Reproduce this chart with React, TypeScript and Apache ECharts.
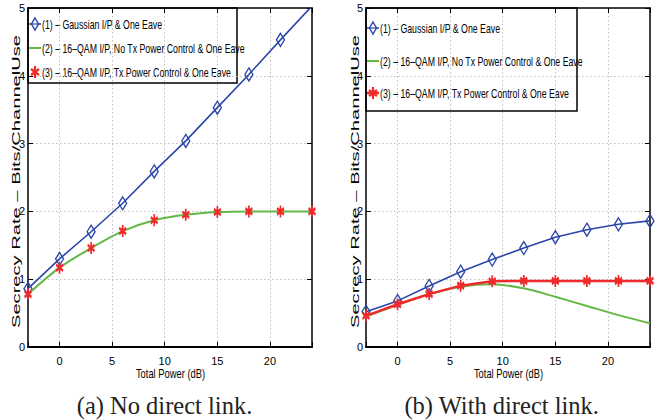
import React, { useEffect, useRef } from "react";
import * as echarts from "echarts";

const xs = [-3, 0, 3, 6, 9, 12, 15, 18, 21, 24];

// (a) No direct link
const aGaussian = [0.86, 1.3, 1.7, 2.12, 2.59, 3.04, 3.53, 4.02, 4.53, 5.03];
const aQamNoPc = [0.78, 1.17, 1.46, 1.71, 1.87, 1.95, 1.99, 2.0, 2.0, 2.0];
const aQamPc = [0.78, 1.17, 1.46, 1.71, 1.87, 1.95, 1.99, 2.0, 2.0, 2.0];

// (b) With direct link
const bGaussian = [0.52, 0.68, 0.9, 1.11, 1.29, 1.46, 1.62, 1.73, 1.81, 1.86];
const bQamNoPc = [0.45, 0.62, 0.78, 0.89, 0.925, 0.865, 0.74, 0.605, 0.47, 0.35];
const bQamPc = [0.46, 0.63, 0.78, 0.905, 0.97, 0.975, 0.975, 0.975, 0.975, 0.975];

const legendLabels = [
  "(1) – Gaussian I/P & One Eave",
  "(2) – 16–QAM I/P, No Tx Power Control & One Eave",
  "(3) – 16–QAM I/P, Tx Power Control & One Eave",
];
const xTicks = [0, 5, 10, 15, 20];
const yLabel = "Secrecy Rate – Bits/ChannelUse";
const xLabel = "Total Power (dB)";
const captions = ["(a) No direct link.", "(b) With direct link."];

const BLUE = "#2a46a8";
const GREEN = "#63b846";
const RED = "#f02a2a";
const SANS = "'Liberation Sans', Arial, Helvetica, sans-serif";
const STAR = "path://M5,0L5,12M0.6,3L9.4,9M0.6,9L9.4,3";
const GRIDLINE = { color: "#bdbdbd", type: [1.5, 2.5], width: 1 };

const pts = (vals: number[]) => xs.map((x, i) => [x, vals[i]]);

function xAxes(grid: number) {
  const common = {
    type: "value" as const,
    gridIndex: grid,
    min: -3,
    max: 24,
    axisTick: { show: true, inside: true, length: 5, lineStyle: { color: "#000", width: 1 } },
  };
  return [
    {
      ...common,
      position: "bottom" as const,
      axisLine: { show: true, onZero: false, lineStyle: { color: "#000", width: 2 } },
      axisLabel: {
        show: true,
        margin: 8,
        fontFamily: SANS,
        fontSize: 11,
        color: "#000",
        formatter: (v: number) => (xTicks.indexOf(v) >= 0 ? String(v) : ""),
      },
      splitLine: { show: true, showMinLine: false, showMaxLine: false, lineStyle: GRIDLINE },
    },
    {
      ...common,
      position: "top" as const,
      axisLine: { show: true, onZero: false, lineStyle: { color: "#000", width: 1.5 } },
      axisLabel: { show: false },
      splitLine: { show: false },
    },
  ];
}

function yAxes(grid: number) {
  const common = {
    type: "value" as const,
    gridIndex: grid,
    min: 0,
    max: 5,
    interval: 1,
    axisLine: { show: true, onZero: false, lineStyle: { color: "#000", width: 1.5 } },
    axisTick: { show: true, inside: true, length: 5, lineStyle: { color: "#000", width: 1 } },
  };
  return [
    {
      ...common,
      position: "left" as const,
      axisLabel: { show: true, margin: 3, fontFamily: SANS, fontSize: 11, color: "#000" },
      splitLine: { show: true, showMinLine: false, showMaxLine: false, lineStyle: GRIDLINE },
    },
    {
      ...common,
      position: "right" as const,
      axisLabel: { show: false },
      splitLine: { show: false },
    },
  ];
}

function plotSeries(axisIdx: number, g: number[], q: number[], p: number[], redLine: boolean) {
  return [
    {
      name: legendLabels[0],
      type: "line",
      xAxisIndex: axisIdx,
      yAxisIndex: axisIdx,
      data: pts(g),
      symbol: "diamond",
      symbolSize: [8, 13],
      itemStyle: { color: "rgba(255,255,255,0)", borderColor: BLUE, borderWidth: 1.4 },
      lineStyle: { color: BLUE, width: 1.6 },
      z: 3,
    },
    {
      name: legendLabels[1],
      type: "line",
      xAxisIndex: axisIdx,
      yAxisIndex: axisIdx,
      data: pts(q),
      symbol: "none",
      smooth: 0.3,
      itemStyle: { color: GREEN },
      lineStyle: { color: GREEN, width: 2 },
      z: 4,
    },
    {
      name: legendLabels[2],
      type: "line",
      xAxisIndex: axisIdx,
      yAxisIndex: axisIdx,
      data: pts(p),
      symbol: STAR,
      symbolSize: [7, 12],
      itemStyle: { color: "rgba(255,255,255,0)", borderColor: RED, borderWidth: 2.2 },
      lineStyle: redLine ? { color: RED, width: 2.5 } : { color: RED, width: 2, opacity: 0 },
      z: 5,
    },
  ];
}

function legendGraphic(
  bx: number,
  by: number,
  bw: number,
  bh: number,
  rows: number[],
  iconX: number,
  textX: number,
  redLine: boolean
) {
  const children: any[] = [
    {
      type: "rect",
      shape: { x: bx, y: by, width: bw, height: bh },
      style: { fill: "#fff", stroke: "#000", lineWidth: 1.5 },
    },
  ];
  const cx = iconX + 6;
  // (1) blue line + diamond
  let y = rows[0];
  children.push({
    type: "line",
    shape: { x1: iconX, y1: y, x2: iconX + 12, y2: y },
    style: { stroke: BLUE, lineWidth: 1.5 },
  });
  children.push({
    type: "polygon",
    shape: { points: [[cx, y - 6], [cx + 3.5, y], [cx, y + 6], [cx - 3.5, y]] },
    style: { fill: "#fff", stroke: BLUE, lineWidth: 1.4 },
  });
  children.push({
    type: "line",
    shape: { x1: cx - 3.5, y1: y, x2: cx + 3.5, y2: y },
    style: { stroke: BLUE, lineWidth: 1.2 },
  });
  // (2) green line
  y = rows[1];
  children.push({
    type: "line",
    shape: { x1: iconX, y1: y, x2: iconX + 12, y2: y },
    style: { stroke: GREEN, lineWidth: 2 },
  });
  // (3) red star (+ line)
  y = rows[2];
  if (redLine) {
    children.push({
      type: "line",
      shape: { x1: iconX, y1: y, x2: iconX + 12, y2: y },
      style: { stroke: RED, lineWidth: 2.5 },
    });
  }
  const starLines = [
    [cx, y - 6, cx, y + 6],
    [cx - 4, y - 3, cx + 4, y + 3],
    [cx - 4, y + 3, cx + 4, y - 3],
  ];
  starLines.forEach(([x1, y1, x2, y2]) =>
    children.push({
      type: "line",
      shape: { x1, y1, x2, y2 },
      style: { stroke: RED, lineWidth: 2.2 },
    })
  );
  legendLabels.forEach((label, i) =>
    children.push({
      type: "text",
      x: textX,
      y: rows[i],
      scaleX: 0.73,
      style: {
        text: label,
        fontFamily: SANS,
        fontSize: 12,
        fill: "#000",
        textAlign: "left",
        textVerticalAlign: "middle",
      },
    })
  );
  return { type: "group", z: 100, children };
}

function yTitle(x: number) {
  return {
    type: "text",
    x,
    y: 181.5,
    rotation: Math.PI / 2,
    scaleX: 1.06,
    scaleY: 0.62,
    z: 100,
    style: {
      text: yLabel,
      fontFamily: SANS,
      fontSize: 19,
      fill: "#000",
      textAlign: "center",
      textVerticalAlign: "middle",
    },
  };
}

function xTitle(x: number) {
  return {
    type: "text",
    x,
    y: 373,
    scaleX: 0.72,
    z: 100,
    style: {
      text: xLabel,
      fontFamily: SANS,
      fontSize: 13,
      fill: "#000",
      textAlign: "center",
      textVerticalAlign: "middle",
    },
  };
}

function caption(x: number, text: string) {
  return {
    type: "text",
    x,
    y: 405,
    z: 100,
    style: {
      text,
      fontFamily: "'Liberation Serif', 'Times New Roman', serif",
      fontSize: 24.5,
      fill: "#222",
      textAlign: "center",
      textVerticalAlign: "middle",
    },
  };
}

export default function App() {
  const ref = useRef<HTMLDivElement>(null);
  useEffect(() => {
    if (!ref.current) return;
    const chart = echarts.init(ref.current, undefined, { renderer: "svg" });
    const option = {
      animation: false,
      backgroundColor: "#fff",
      grid: [
        { left: 28, top: 8, width: 284, height: 339, containLabel: false },
        { left: 366, top: 8, width: 284, height: 339, containLabel: false },
      ],
      xAxis: [...xAxes(0), ...xAxes(1)],
      yAxis: [...yAxes(0), ...yAxes(1)],
      series: [
        ...plotSeries(0, aGaussian, aQamNoPc, aQamPc, false),
        ...plotSeries(2, bGaussian, bQamNoPc, bQamPc, true),
      ],
      graphic: [
        legendGraphic(28, 8, 209, 75, [24, 48, 72], 29, 42, false),
        legendGraphic(366, 8, 211, 103, [28, 61, 93], 367, 380, true),
        yTitle(15.5),
        yTitle(354.5),
        xTitle(170.5),
        xTitle(508.5),
        caption(164.5, captions[0]),
        caption(501.7, captions[1]),
      ],
    };
    chart.setOption(option as any);
    return () => chart.dispose();
  }, []);
  return (
    <div
      ref={ref}
      style={{ position: "fixed", left: 0, top: 0, width: 665, height: 420, background: "#fff" }}
    />
  );
}
